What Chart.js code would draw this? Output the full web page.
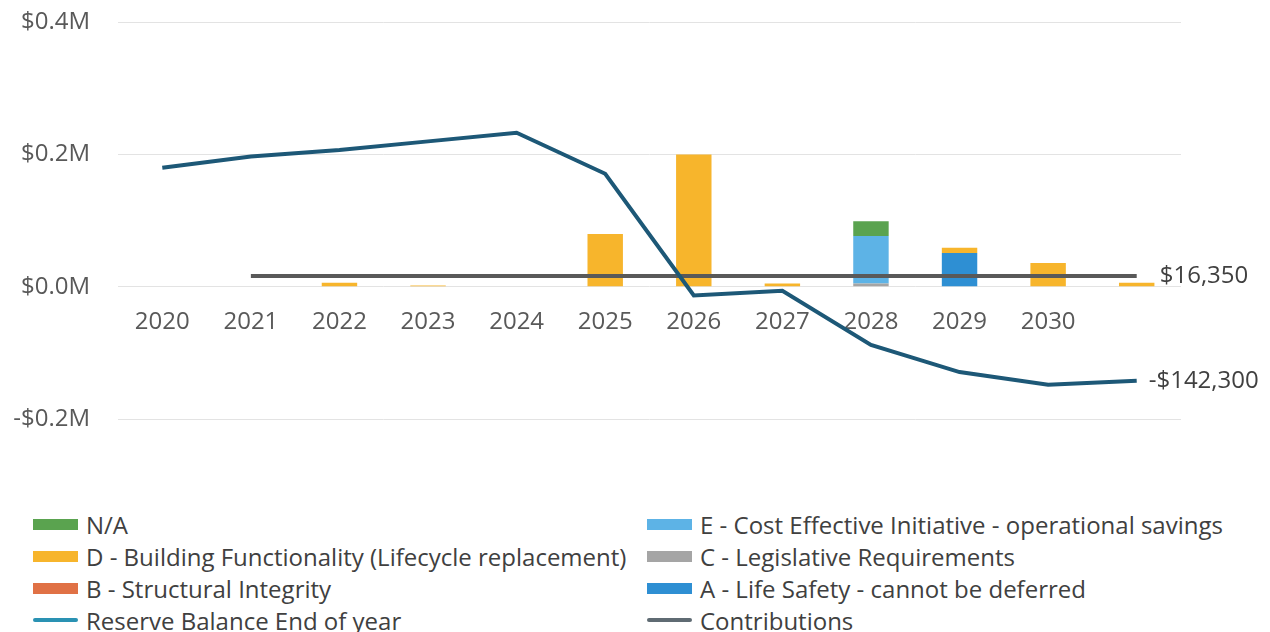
<!DOCTYPE html>
<html>
<head>
<meta charset="utf-8">
<title>Reserve Balance</title>
<script src="https://cdn.jsdelivr.net/npm/chart.js@4.4.0/dist/chart.umd.min.js"></script>
<style>
  body { margin: 0; background: #fff; font-family: "Open Sans", sans-serif; }
  #wrap { position: relative; width: 1270px; height: 632px; overflow: hidden; }
  /* canvas is pulled up a little so the plot fills the top of the page */
  #chart-box { position: absolute; left: 0; top: -20px; width: 1270px; height: 490px; }
  #legend {
    position: absolute; left: 33px; top: 508px;
    display: grid; grid-template-columns: 614px auto;
  }
  .item { display: flex; align-items: center; height: 32px; font-size: 24px; color: #404040; white-space: nowrap; }
  .swatch { width: 45px; height: 11px; margin-right: 8px; flex: none; }
  .swatch.line { height: 4px; border-radius: 2px; }
</style>
</head>
<body>
<div id="wrap">
  <div id="chart-box"><canvas id="reserveChart"></canvas></div>
  <div id="legend"></div>
</div>
<script>
// years on the x axis (last column has no label)
const years = ["2020", "2021", "2022", "2023", "2024", "2025", "2026", "2027", "2028", "2029", "2030", ""];

// reserve balance at end of each year ($)
const reserveBalance = [180000, 197000, 207000, 220000, 233000, 171000, -13000, -6000, -88000, -129000, -148000, -142300];
// yearly contributions ($)
const contributions = [null, 16350, 16350, 16350, 16350, 16350, 16350, 16350, 16350, 16350, 16350, 16350];

// project spending by priority ($)
const lifeSafety      = [0, 0, 0, 0, 0, 0, 0, 0, 0, 51000, 0, 0];
const legislative     = [0, 0, 0, 0, 0, 0, 0, 0, 5000, 0, 0, 0];
const costEffective   = [0, 0, 0, 0, 0, 0, 0, 0, 72000, 0, 0, 0];
const structural      = [0, 0, 0, 0, 0, 0, 0, 0, 0, 0, 0, 0];
const buildingFunc    = [0, 0, 6000, 2000, 0, 80000, 200000, 5000, 0, 8000, 36000, 6000];
const notApplicable   = [0, 0, 0, 0, 0, 0, 0, 0, 22000, 0, 0, 0];

const FONT = "'Open Sans', sans-serif";
const TEXT = "#595959";

function money(v) {
  return (v < 0 ? "-" : "") + "$" + Math.abs(v).toLocaleString("en-US");
}

// writes "$16,350" style labels next to the last point of a line
const endLabels = {
  id: "endLabels",
  afterDatasetsDraw(chart) {
    const ctx = chart.ctx;
    ctx.save();
    ctx.font = "24px " + FONT;
    ctx.fillStyle = "#404040";
    ctx.textBaseline = "middle";
    ctx.textAlign = "left";
    chart.data.datasets.forEach((ds, i) => {
      if (!ds.endLabel) return;
      const pts = chart.getDatasetMeta(i).data;
      const last = pts[pts.length - 1];
      const val = ds.data[ds.data.length - 1];
      const x = last.x + 12 + (val >= 0 ? 11 : 0);
      ctx.fillText(money(val), x, last.y);
    });
    ctx.restore();
  }
};

function bar(label, data, color) {
  return { type: "bar", label, data, backgroundColor: color, stack: "spend", order: 2,
           barPercentage: 0.4, categoryPercentage: 1.0 };
}

const datasets = [
  bar("A - Life Safety - cannot be deferred", lifeSafety, "#2e8fd3"),
  bar("C - Legislative Requirements", legislative, "#a5a5a5"),
  bar("E - Cost Effective Initiative - operational savings", costEffective, "#5db3e6"),
  bar("B - Structural Integrity", structural, "#e07145"),
  bar("D - Building Functionality (Lifecycle replacement)", buildingFunc, "#f7b52c"),
  bar("N/A", notApplicable, "#5aa34f"),
  {
    type: "line", label: "Reserve Balance End of year", data: reserveBalance,
    borderColor: "#1d5877", borderWidth: 4, pointRadius: 0, tension: 0,
    stack: "reserve", order: 0, endLabel: true, swatch: "#2a92b3"
  },
  {
    type: "line", label: "Contributions", data: contributions,
    borderColor: "#595959", borderWidth: 4, pointRadius: 0, tension: 0,
    stack: "contrib", order: 1, endLabel: true, swatch: "#5f6b73"
  }
];

const chart = new Chart(document.getElementById("reserveChart"), {
  data: { labels: years, datasets },
  plugins: [endLabels],
  options: {
    responsive: true,
    maintainAspectRatio: false,
    animation: false,
    layout: { padding: { top: 4, right: 89, bottom: 51, left: 0 } },
    plugins: { legend: { display: false }, tooltip: { enabled: false } },
    scales: {
      x: {
        stacked: true,
        position: { y: 0 },
        grid: { display: false, drawTicks: false },
        border: { display: false },
        ticks: { color: TEXT, font: { size: 24, family: FONT }, padding: 21, maxRotation: 0, autoSkip: false }
      },
      y: {
        stacked: true,
        min: -200000,
        max: 400000,
        grid: { color: "#e3e3e3", lineWidth: 1, drawTicks: false },
        border: { display: false },
        ticks: {
          stepSize: 200000,
          color: TEXT,
          font: { size: 24, family: FONT },
          padding: 28,
          callback: v => (v < 0 ? "-" : "") + "$" + Math.abs(v / 1e6).toFixed(1) + "M"
        },
        afterFit: s => { s.width = 118; }
      }
    }
  }
});

// legend in two columns, same order as the report
const legendOrder = [
  "N/A", "E - Cost Effective Initiative - operational savings",
  "D - Building Functionality (Lifecycle replacement)", "C - Legislative Requirements",
  "B - Structural Integrity", "A - Life Safety - cannot be deferred",
  "Reserve Balance End of year", "Contributions"
];
const legend = document.getElementById("legend");
legendOrder.forEach(name => {
  const ds = datasets.find(d => d.label === name);
  const item = document.createElement("div");
  item.className = "item";
  const sw = document.createElement("span");
  sw.className = "swatch" + (ds.type === "line" ? " line" : "");
  sw.style.background = ds.swatch || ds.backgroundColor;
  item.appendChild(sw);
  item.appendChild(document.createTextNode(name));
  legend.appendChild(item);
});
</script>
</body>
</html>
